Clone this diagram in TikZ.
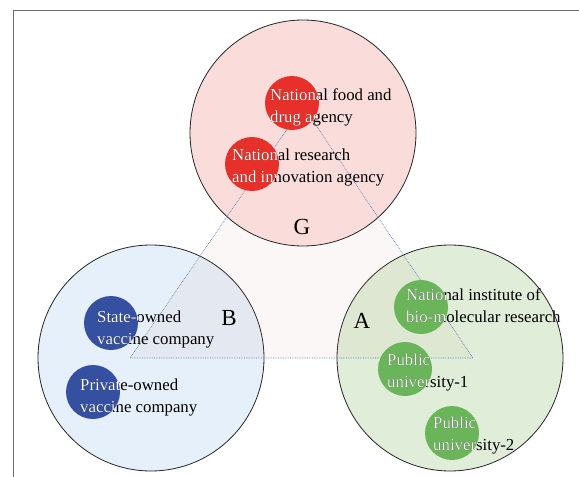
\documentclass[tikz,border=0pt]{standalone}
\usepackage{fontspec}
\setmainfont{Liberation Serif}
\definecolor{gfill}{HTML}{FADCDA}
\definecolor{bfill}{HTML}{E6F0FA}
\definecolor{afill}{HTML}{E0EED9}
\definecolor{reddot}{HTML}{E8302A}
\definecolor{bluedot}{HTML}{3550A0}
\definecolor{greendot}{HTML}{6AB55A}
\definecolor{triline}{HTML}{5A7BB8}
\definecolor{trifill}{HTML}{D09580}
\definecolor{framecol}{HTML}{6E6E6E}
\tikzset{
  group/.style={circle, draw=black!85, line width=0.8pt, minimum size=226pt, inner sep=0pt},
  dot/.style={circle, minimum size=54pt, inner sep=0pt, draw=none},
  txt/.style={anchor=west, align=left, inner sep=0pt, font=\fontsize{16.8}{22}\selectfont},
  grouplabel/.style={font=\fontsize{23}{23}\selectfont, inner sep=0pt},
  tri/.style={draw=triline, densely dotted, line width=0.7pt},
}
% one member: coloured disc, its text in black, and the part of the text
% that lies over the disc in white
\newcommand\member[5]{%
  \node[dot, fill=#3] (#1) at #2 {};
  \node[txt, text=black] (#1-t) at #4 {#5};
  \begin{scope}
    \clip (#1.center) circle (27pt);
    \node[txt, text=white] (#1-w) at #4 {#5};
  \end{scope}
}
\begin{document}
\begin{tikzpicture}[x=1pt, y=-1pt]
\useasboundingbox (0,0) rectangle (579,477);
\fill[white] (0,0) rectangle (579,477);
% frame
\draw[framecol, line width=1pt] (13,477) -- (13,10) -- (579,10);

% triangle corners
\coordinate (apex) at (303,106);
\coordinate (left) at (130,358);
\coordinate (right) at (473,358);

% lower groups
\node[group, fill=bfill] (B) at (151,358) {};
\node[group, fill=afill] (A) at (450,358) {};
% shaded triangle
\fill[trifill, opacity=0.07] (apex) -- (left) -- (right) -- cycle;
% upper group
\node[group, fill=gfill] (G) at (303,133) {};
% triangle outline
\draw[tri] (apex) -- (left) -- (right) -- cycle;

% group labels
\node[grouplabel] (Glab) at (302,227) {G};
\node[grouplabel] (Blab) at (229,318) {B};
\node[grouplabel] (Alab) at (362,321) {A};

% members
\member{food}{(292,103)}{reddot}{(270,107)}{National food and\\drug agency}
\member{research}{(252,164)}{reddot}{(232,167.5)}{National research\\and innovation agency}
\member{state}{(111,323)}{bluedot}{(97,329)}{State-owned\\vaccine company}
\member{private}{(93,392)}{bluedot}{(80,397.5)}{Private-owned\\vaccine company}
\member{nibmr}{(421,307)}{greendot}{(406,305.5)}{National institute of\\bio-molecular research}
\member{pub1}{(405,369)}{greendot}{(387,372)}{Public\\university-1}
\member{pub2}{(452,433)}{greendot}{(433,435)}{Public\\university-2}
\end{tikzpicture}
\end{document}
